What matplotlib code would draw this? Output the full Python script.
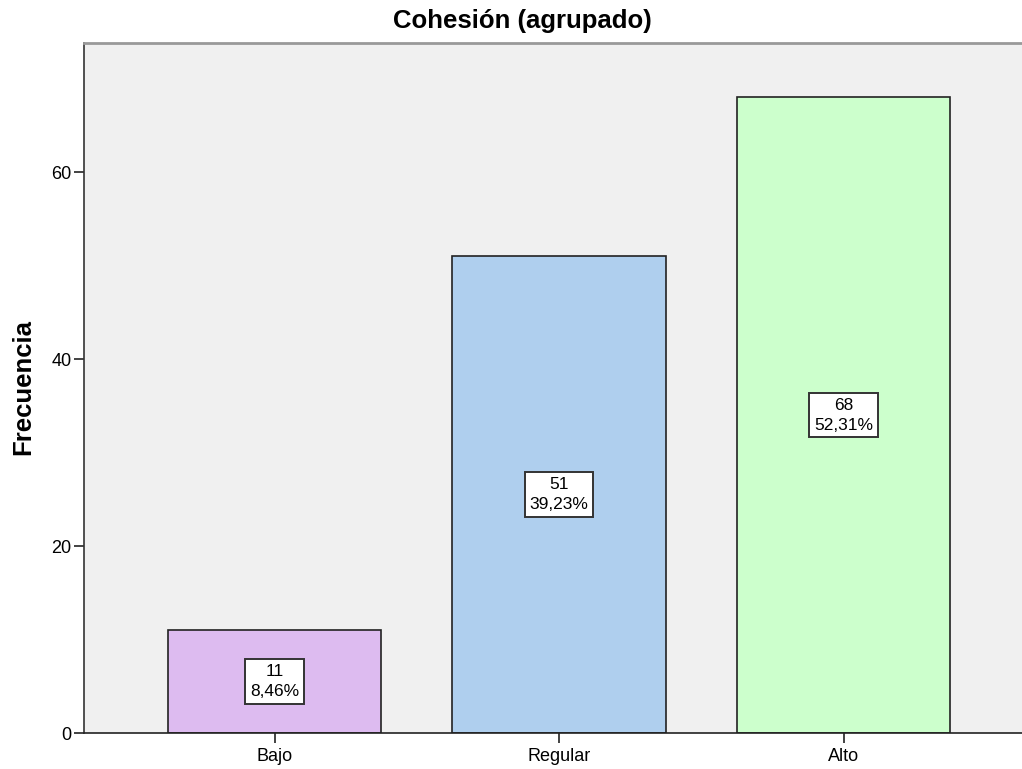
import matplotlib
matplotlib.use("Agg")
import matplotlib.pyplot as plt
import numpy as np

categories = ["Bajo", "Regular", "Alto"]
counts = [11, 51, 68]
percents = ["8,46%", "39,23%", "52,31%"]
colors = ["#DDBBF0", "#AFCFEE", "#CCFFCC"]
yticks = [0, 20, 40, 60]

plt.rcParams['font.family'] = ['Arial', 'Liberation Sans', 'DejaVu Sans']

fig = plt.figure(figsize=(10.22, 7.69), dpi=100)
ax = fig.add_axes([84/1022, 1-733/769, 1-84/1022, (733-43)/769])
ax.set_facecolor("#F0F0F0")

x = np.arange(len(categories))
ax.bar(x, counts, width=0.75, color=colors, edgecolor="#222222", linewidth=1.2, zorder=2)
for xi, c, p in zip(x, counts, percents):
    ax.text(xi, c/2, f"{c}\n{p}", ha="center", va="center", fontsize=12.5, linespacing=1.4,
            bbox=dict(boxstyle="square,pad=0.27", fc="white", ec="#333333", lw=1.4), zorder=3)

ax.set_xlim(-0.67, 2.627)
ax.set_ylim(0, 73.8)
ax.set_xticks(x)
ax.set_xticklabels(categories, fontsize=13)
ax.set_yticks(yticks)
ax.set_yticklabels([str(t) for t in yticks], fontsize=13)
ax.tick_params(axis='both', direction='out', length=7.5, width=1.2, color="#222222", pad=1.5)
ax.tick_params(axis='x', pad=3)
ax.spines['right'].set_visible(False)
ax.spines['top'].set_color("#999999")
ax.spines['top'].set_linewidth(2)
ax.spines['left'].set_color("#333333")
ax.spines['left'].set_linewidth(1.2)
ax.spines['bottom'].set_color("#222222")
ax.spines['bottom'].set_linewidth(1.2)

ax.set_ylabel("Frecuencia", fontsize=18.5, fontweight="bold", va="center")
ax.yaxis.set_label_coords(23/1022, 1-387/769, transform=fig.transFigure)
fig.text(522/1022, 1-21/769, "Cohesión (agrupado)", ha="center", va="center", fontsize=18.5, fontweight="bold")

fig.savefig("out.png", dpi=100)
